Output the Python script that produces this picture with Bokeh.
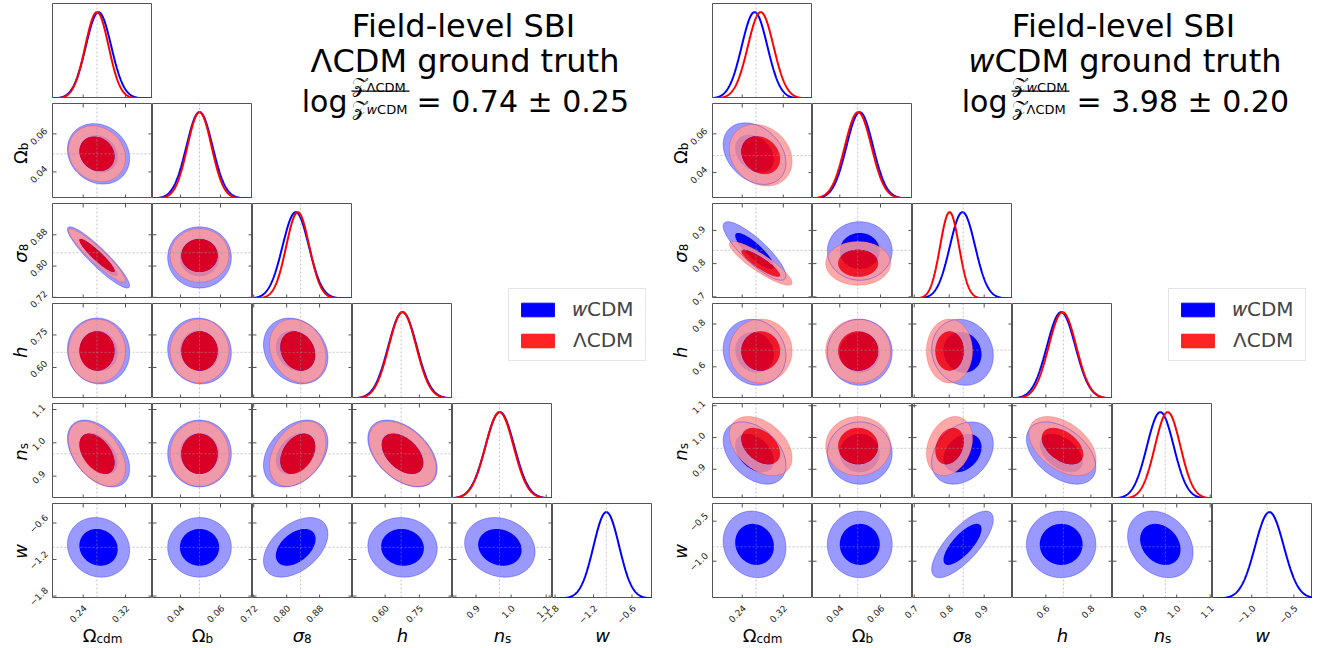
import numpy as np
from math import pi
from bokeh.plotting import figure
from bokeh.models import Range1d, Span, GridPlot, Legend, LegendItem
from bokeh.core.properties import value
from bokeh.embed import file_html
from bokeh.resources import INLINE

FONT = "DejaVu Sans"

# ---------------- parameter names ----------------
sym_main = ["Ω", "Ω", "σ", "h", "n", "w"]
sym_sub = ["cdm", "b", "8", "", "s", ""]
sym_italic = [False, False, True, True, True, True]

# order of the correlation coefficients below: (row param, column param)
PAIRS = [(1, 0), (2, 0), (2, 1), (3, 0), (3, 1), (3, 2), (4, 0), (4, 1), (4, 2), (4, 3),
         (5, 0), (5, 1), (5, 2), (5, 3), (5, 4)]

# ---------------- left: ΛCDM ground truth ----------------
L_truth = [0.266, 0.0495, 0.834, 0.670, 0.967, -1.00]
L_lo = [0.182, 0.026, 0.717, 0.457, 0.833, -1.84]
L_hi = [0.371, 0.076, 0.960, 0.895, 1.118, -0.28]
L_ticks = [[0.24, 0.32], [0.04, 0.06], [0.72, 0.80, 0.88], [0.60, 0.75], [0.9, 1.0, 1.1], [-1.8, -1.2, -0.6]]
L_ticklabels = [["0.24", "0.32"], ["0.04", "0.06"], ["0.72", "0.80", "0.88"], ["0.60", "0.75"],
                ["0.9", "1.0", "1.1"], ["−1.8", "−1.2", "−0.6"]]
L_wcdm_mean = [0.269, 0.0495, 0.822, 0.676, 0.968, -1.00]
L_wcdm_std = [0.024, 0.0065, 0.032, 0.062, 0.041, 0.20]
L_wcdm_corr = [-0.15, -0.92, 0.0, -0.05, -0.05, -0.20, -0.45, 0.0, 0.35, -0.45, -0.10, 0.0, 0.45, -0.05, -0.15]
L_lcdm_mean = [0.266, 0.0495, 0.827, 0.676, 0.967]
L_lcdm_std = [0.022, 0.0060, 0.028, 0.060, 0.040]
L_lcdm_corr = [-0.15, -0.93, 0.0, 0.0, 0.0, -0.20, -0.45, 0.0, 0.35, -0.45]
L_result = "= 0.74 ± 0.25"

# ---------------- right: wCDM ground truth ----------------
R_truth = [0.267, 0.0488, 0.840, 0.678, 0.966, -0.82]
R_lo = [0.182, 0.0266, 0.695, 0.452, 0.808, -1.466]
R_hi = [0.377, 0.0757, 0.981, 0.896, 1.107, -0.279]
R_ticks = [[0.24, 0.32], [0.04, 0.06], [0.7, 0.8, 0.9], [0.6, 0.8], [0.9, 1.0, 1.1], [-1.0, -0.5]]
R_ticklabels = [["0.24", "0.32"], ["0.04", "0.06"], ["0.7", "0.8", "0.9"], ["0.6", "0.8"],
                ["0.9", "1.0", "1.1"], ["−1.0", "−0.5"]]
R_wcdm_mean = [0.264, 0.0498, 0.838, 0.668, 0.951, -0.79]
R_wcdm_std = [0.025, 0.0065, 0.036, 0.063, 0.040, 0.17]
R_wcdm_corr = [-0.30, -0.85, 0.0, -0.10, 0.0, -0.10, -0.40, 0.0, 0.30, -0.45, -0.10, 0.0, 0.75, 0.0, -0.25]
R_lcdm_mean = [0.276, 0.049, 0.801, 0.674, 0.973]
R_lcdm_std = [0.025, 0.0065, 0.027, 0.061, 0.038]
R_lcdm_corr = [-0.20, -0.88, 0.0, 0.0, 0.0, 0.0, -0.40, 0.0, 0.25, -0.45]
R_result = "= 3.98 ± 0.20"

title_line1 = "Field-level SBI"
title_line2 = ["ΛCDM ground truth", "CDM ground truth"]
legend_labels = ["𝑤CDM", "ΛCDM"]

# ---------------- styling / layout ----------------
FRAME_W, FRAME_H, GAP, TOP0 = 100, 95, 5, 3
STRIP_W = [52, 60]          # space left of each corner (tick labels + axis labels)
XLAB_H = 48                 # strip under the last row
PANEL_TOP = [TOP0 + r * (FRAME_H + GAP) for r in range(6)]
GRID_H = PANEL_TOP[5] + FRAME_H
BLUE, BLUE_LIGHT = "#0000ff", "#9999ff"
RED, RED_LIGHT = "#ff0000", "#ff9999"
TICK_C = "#555555"
LABEL_C = "#222222"
TICK_FS = 9
R68, R95 = np.sqrt(-2 * np.log(1 - 0.68)), np.sqrt(-2 * np.log(1 - 0.95))
EM = {"Ω": 0.764, "σ": 0.603, "h": 0.634, "n": 0.634, "w": 0.818, "c": 0.55, "d": 0.635,
      "m": 0.974, "b": 0.635, "8": 0.636, "s": 0.521}
MAIN_FS, SUB_FS = 18.0, 12.0


def text_w(s, fs):
    return sum(EM.get(ch, 0.6) for ch in s) * fs


def ellipse(mx, my, sx, sy, rho, r, n=160):
    t = np.linspace(0, 2 * np.pi, n)
    L = np.linalg.cholesky(np.array([[sx * sx, rho * sx * sy], [rho * sx * sy, sy * sy]]))
    pts = L @ np.vstack([np.cos(t), np.sin(t)]) * r
    return (mx + pts[0]).tolist(), (my + pts[1]).tolist()


def edge_ticks(p, xt, yt, xr, yr, top=True):
    # inward tick marks: dashes centred on the frame edges (outer half is clipped)
    if xt:
        for yy in ((yr[0], yr[1]) if top else (yr[0],)):
            p.scatter(x=xt, y=[yy] * len(xt), marker="dash", angle=pi / 2, size=8,
                      line_color=TICK_C, line_width=1)
    if yt:
        for xx in (xr[0], xr[1]):
            p.scatter(x=[xx] * len(yt), y=yt, marker="dash", angle=0, size=8,
                      line_color=TICK_C, line_width=1)


def corr_of(corr, i, j):
    return corr[PAIRS.index((i, j))]


def corner(c, truth, lo, hi, ticks, wm, ws, wc, lm, ls, lc):
    out = []
    off = 7 * c + 1
    for i in range(6):
        for j in range(i + 1):
            tb = TOP0 if i == 0 else GAP
            yr = (0.0, 1.1) if i == j else (lo[i], hi[i])
            xr = (lo[j], hi[j])
            p = figure(width=FRAME_W, height=FRAME_H + tb,
                       x_range=Range1d(*xr), y_range=Range1d(*yr),
                       output_backend="svg", toolbar_location=None, tools="",
                       x_axis_location=None, y_axis_location=None,
                       min_border_left=0, min_border_right=0, min_border_top=tb, min_border_bottom=0)
            p.grid.visible = False
            p.outline_line_color = "#555555"
            p.outline_line_width = 1
            p.background_fill_color = "white"
            p.border_fill_color = "white"
            if i == j:
                xs = np.linspace(lo[j], hi[j], 300)
                p.line(xs.tolist(), np.exp(-0.5 * ((xs - wm[j]) / ws[j]) ** 2).tolist(),
                       line_color=BLUE, line_width=2)
                if j < 5:
                    p.line(xs.tolist(), np.exp(-0.5 * ((xs - lm[j]) / ls[j]) ** 2).tolist(),
                           line_color=RED, line_width=2)
            else:
                rb = corr_of(wc, i, j)
                ox, oy = ellipse(wm[j], wm[i], ws[j], ws[i], rb, R95)
                ix, iy = ellipse(wm[j], wm[i], ws[j], ws[i], rb, R68)
                p.patch(ox, oy, fill_color=BLUE_LIGHT, line_color=None)
                p.patch(ix, iy, fill_color=BLUE, line_color=None)
                if i < 5:
                    rr = corr_of(lc, i, j)
                    rox, roy = ellipse(lm[j], lm[i], ls[j], ls[i], rr, R95)
                    rix, riy = ellipse(lm[j], lm[i], ls[j], ls[i], rr, R68)
                    p.multi_polygons(xs=[[[rox, rix]]], ys=[[[roy, riy]]],
                                     fill_color=RED_LIGHT, fill_alpha=0.85, line_color=None)
                    p.patch(rix, riy, fill_color=RED, fill_alpha=0.85, line_color=None)
                    p.line(rox, roy, line_color=RED, line_alpha=0.3, line_width=0.7)
                p.line(ox, oy, line_color=BLUE, line_alpha=0.45, line_width=0.7)
                p.add_layout(Span(location=truth[i], dimension="width", line_color="#999999",
                                  line_alpha=0.7, line_dash="2 2", line_width=0.8))
            p.add_layout(Span(location=truth[j], dimension="height", line_color="#999999",
                              line_alpha=0.7, line_dash="2 2", line_width=0.8))
            xt = [t for t in ticks[j] if xr[0] < t < xr[1]]
            yt = [t for t in ticks[i] if yr[0] < t < yr[1]] if i != j else []
            edge_ticks(p, xt, yt, xr, yr, top=(i != j))
            out.append((p, i, off + j))
    return out


def blank(width, height, flip=True):
    yr = Range1d(height, 0) if flip else Range1d(0, height)
    p = figure(width=width, height=height, x_range=Range1d(0, width), y_range=yr,
               output_backend="svg", toolbar_location=None, tools="",
               x_axis_location=None, y_axis_location=None,
               min_border_left=0, min_border_right=0, min_border_top=0, min_border_bottom=0)
    p.grid.visible = False
    p.outline_line_color = None
    p.background_fill_color = "white"
    p.border_fill_color = "white"
    return p


def txt(p, x, y, s, size, align="left", style="normal", angle=0.0, baseline="alphabetic", color="black"):
    p.text(x=[x], y=[y], text=[s], text_font=value(FONT), text_font_size=value(f"{size}px"),
           text_align=align, text_baseline=baseline, text_color=color,
           text_font_style=style, angle=angle)


def ylabel_strip(width, lo, hi, ticks, ticklabels):
    # tick labels and axis names left of a corner (spans the full height); page y -> h - y
    h = GRID_H + XLAB_H
    p = blank(width, h, flip=False)
    base_x = width - 32
    tick_x = width - 14
    for k in range(1, 6):
        main, sub = sym_main[k], sym_sub[k]
        style = "italic" if sym_italic[k] else "normal"
        centre = h - (PANEL_TOP[k] + FRAME_H / 2)
        total = text_w(main, MAIN_FS) + text_w(sub, SUB_FS)
        split = centre - total / 2 + text_w(main, MAIN_FS)
        txt(p, base_x, split, main, MAIN_FS, "right", style, pi / 2)
        if sub:
            txt(p, base_x + 3, split, sub, SUB_FS, "left", "normal", pi / 2)
        bottom = h - (PANEL_TOP[k] + FRAME_H)
        for t, s in zip(ticks[k], ticklabels[k]):
            if lo[k] <= t <= hi[k]:
                y = bottom + FRAME_H * (t - lo[k]) / (hi[k] - lo[k])
                txt(p, tick_x, y, s, TICK_FS, "center", "normal", pi / 4, "middle", LABEL_C)
    return p


def xlabel_strip(lo, hi, ticks, ticklabels):
    # tick labels and axis names under one corner
    p = blank(6 * FRAME_W, XLAB_H, flip=False)
    for k in range(6):
        main, sub = sym_main[k], sym_sub[k]
        style = "italic" if sym_italic[k] else "normal"
        left = k * FRAME_W
        centre = left + FRAME_W / 2
        total = text_w(main, MAIN_FS) + text_w(sub, SUB_FS)
        split = centre - total / 2 + text_w(main, MAIN_FS)
        txt(p, split, 11, main, MAIN_FS, "right", style)
        if sub:
            txt(p, split, 8, sub, SUB_FS, "left")
        for t, s in zip(ticks[k], ticklabels[k]):
            if lo[k] <= t <= hi[k]:
                x = left + FRAME_W * (t - lo[k]) / (hi[k] - lo[k])
                txt(p, x + 2, XLAB_H - 8, s, TICK_FS, "right", "normal", pi / 4, "middle", LABEL_C)
    return p


def title_fig(c, result):
    p = blank(4 * FRAME_W, 2 * FRAME_H + TOP0 + GAP)
    txt(p, 211, 23, title_line1, 32, "center")
    if c == 0:
        txt(p, 212.5, 58, title_line2[0], 32, "center")
        num, den = "ΛCDM", "wCDM"
    else:
        txt(p, 82, 58, "w", 32, "right", "italic")
        txt(p, 82, 58, title_line2[1], 32, "left")
        num, den = "wCDM", "ΛCDM"
    txt(p, 95, 100, "log", 30, "right")
    p.segment(x0=[99], y0=[89], x1=[157], y1=[89], line_color="black", line_width=1.3)
    for s, yb in ((num, 83), (den, 106)):
        txt(p, 114, yb, "𝒵", 20, "right")
        if s.startswith("w"):
            txt(p, 114, yb + 2, "w", 13, "left", "italic")
            txt(p, 124.6, yb + 2, s[1:], 13, "left")
        else:
            txt(p, 114, yb + 2, s, 13, "left")
    txt(p, 164, 100, result, 30, "left")
    return p


def legend_fig():
    p = blank(2 * FRAME_W, 2 * (FRAME_H + GAP), flip=False)
    rb = p.quad(left=[500], right=[501], bottom=[500], top=[501], fill_color=BLUE, line_color=BLUE)
    rr = p.quad(left=[500], right=[501], bottom=[500], top=[501], fill_color=RED, fill_alpha=0.86,
                line_color=RED, line_alpha=0.86)
    leg = Legend(items=[LegendItem(label=legend_labels[0], renderers=[rb]),
                        LegendItem(label=legend_labels[1], renderers=[rr])],
                 location=(56, 37), label_text_font=FONT, label_text_font_size="20px",
                 glyph_width=41, glyph_height=17, label_standoff=15, label_width=64,
                 spacing=7, padding=8, margin=0, border_line_color="#cccccc", border_line_width=1,
                 background_fill_color="white", background_fill_alpha=1.0)
    p.add_layout(leg, "center")
    return p


children = []
children += corner(0, L_truth, L_lo, L_hi, L_ticks,
                   L_wcdm_mean, L_wcdm_std, L_wcdm_corr, L_lcdm_mean, L_lcdm_std, L_lcdm_corr)
children += corner(1, R_truth, R_lo, R_hi, R_ticks,
                   R_wcdm_mean, R_wcdm_std, R_wcdm_corr, R_lcdm_mean, R_lcdm_std, R_lcdm_corr)
children.append((ylabel_strip(STRIP_W[0], L_lo, L_hi, L_ticks, L_ticklabels), 0, 0, 7, 1))
children.append((ylabel_strip(STRIP_W[1], R_lo, R_hi, R_ticks, R_ticklabels), 0, 7, 7, 1))
children.append((xlabel_strip(L_lo, L_hi, L_ticks, L_ticklabels), 6, 1, 1, 6))
children.append((xlabel_strip(R_lo, R_hi, R_ticks, R_ticklabels), 6, 8, 1, 6))
children.append((title_fig(0, L_result), 0, 3, 2, 4))
children.append((title_fig(1, R_result), 0, 10, 2, 4))
children.append((legend_fig(), 2, 5, 2, 2))
children.append((legend_fig(), 2, 12, 2, 2))

grid = GridPlot(children=children, toolbar_location=None, spacing=0)

with open("out.html", "w") as f:
    f.write(file_html(grid, INLINE))
